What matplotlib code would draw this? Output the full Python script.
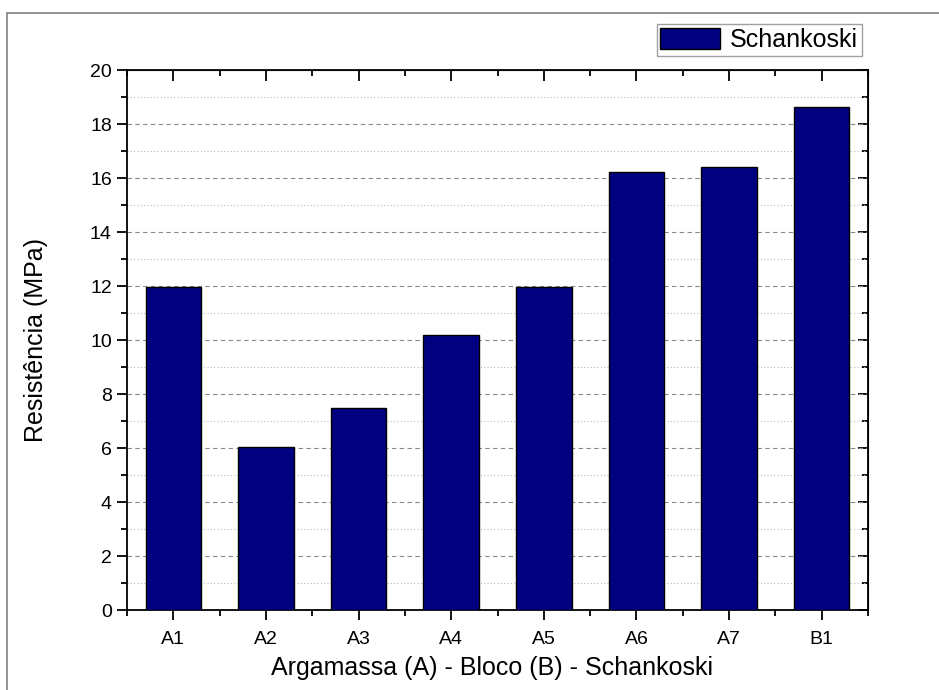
import matplotlib
matplotlib.use('Agg')
import matplotlib.pyplot as plt
from matplotlib.patches import Rectangle, Patch
from matplotlib.ticker import MultipleLocator, FixedLocator

plt.rcParams['font.family'] = ['Liberation Sans', 'DejaVu Sans']

categories = ['A1', 'A2', 'A3', 'A4', 'A5', 'A6', 'A7', 'B1']
values = [11.95, 6.05, 7.48, 10.19, 11.98, 16.21, 16.40, 18.63]

fig = plt.figure(figsize=(9.39, 6.9), dpi=100)
ax = fig.add_axes([0.1353, 0.1159, 0.7891, 0.7826])

# outer frame (partly visible)
fig.patches.append(Rectangle((7 / 939, -0.1), 1.2, (690 - 13) / 690 + 0.1,
                             transform=fig.transFigure, fill=False,
                             edgecolor='#808080', linewidth=1.2))

x = list(range(len(categories)))
ax.bar(x, values, width=0.6, color='#000080', edgecolor='black', linewidth=1, zorder=3)

ax.set_xlim(-0.5, 7.5)
ax.set_ylim(0, 20)
ax.set_xticks(x)
ax.set_xticklabels(categories)
minor_x = [i + 0.5 for i in range(-1, 8)]
ax.xaxis.set_minor_locator(FixedLocator(minor_x))
ax.yaxis.set_major_locator(MultipleLocator(2))
ax.yaxis.set_minor_locator(MultipleLocator(1))

ax.grid(axis='y', which='major', linestyle=(0, (4, 3)), color='#888888', linewidth=0.8, zorder=0)
ax.grid(axis='y', which='minor', linestyle=(0, (1, 2)), color='#bbbbbb', linewidth=0.8, zorder=0)

for s in ax.spines.values():
    s.set_linewidth(1.3)

ax.tick_params(which='major', direction='out', length=7, width=1.3, labelsize=14,
               pad=4, top=False, right=False)
ax.tick_params(axis='x', which='major', pad=8)
ax.tick_params(which='minor', direction='out', length=4, width=1.3)

# inward ticks on top/right
ax2 = ax.secondary_xaxis('top')
ax2.set_xticks(x)
ax2.xaxis.set_minor_locator(FixedLocator(minor_x))
ax2.tick_params(which='major', direction='in', length=8, width=1.3, labeltop=False)
ax2.tick_params(which='minor', direction='in', length=4, width=1.3)
ax2.set_xticklabels([])
ay2 = ax.secondary_yaxis('right')
ay2.yaxis.set_major_locator(MultipleLocator(2))
ay2.yaxis.set_minor_locator(MultipleLocator(1))
ay2.tick_params(which='major', direction='in', length=7, width=1.3, labelright=False)
ay2.tick_params(which='minor', direction='in', length=4, width=1.3)

ax.set_xlabel('Argamassa (A) - Bloco (B) - Schankoski', fontsize=18)
ax.set_ylabel('Resistência (MPa)', fontsize=18)
ax.xaxis.set_label_coords(0.493, -0.086)
ax.yaxis.set_label_coords(-0.107, 0.5)

leg = fig.legend(handles=[Patch(facecolor='#000080', edgecolor='black', label='Schankoski')],
                 loc='upper right', bbox_to_anchor=(862 / 939, 1 - 24 / 690),
                 fontsize=18, frameon=True, fancybox=False, edgecolor='#888888',
                 handlelength=2.4, handleheight=0.9, borderpad=0.15, handletextpad=0.4,
                 borderaxespad=0)
leg.get_frame().set_linewidth(1)

fig.savefig('out.png', dpi=100)
